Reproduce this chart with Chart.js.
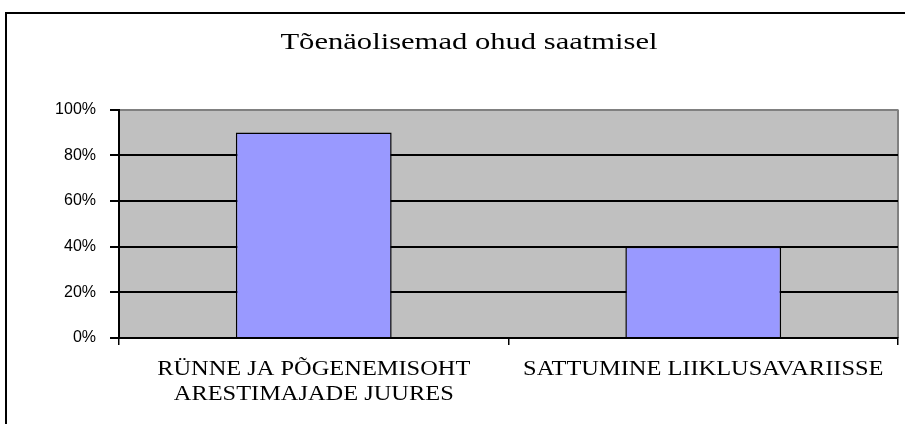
<!DOCTYPE html>
<html>
<head>
<meta charset="utf-8">
<script src="https://cdn.jsdelivr.net/npm/chart.js@4.4.0/dist/chart.umd.min.js"></script>
<style>
  html, body { margin: 0; padding: 0; background: #fff; overflow: hidden; }
  #wrap { position: relative; width: 905px; height: 424px; }
  #marco { position: absolute; left: 5px; top: 12px; width: 910px; height: 430px; border: 2px solid #000; box-sizing: border-box; }
  #grafico { position: absolute; left: 0; top: 0; }
</style>
</head>
<body>
<div id="wrap">
  <div id="marco"></div>
  <canvas id="grafico" width="905" height="424"></canvas>
</div>
<script>
const titulo = 'Tõenäolisemad ohud saatmisel';
const categorias = [['RÜNNE JA PÕGENEMISOHT', 'ARESTIMAJADE JUURES'], 'SATTUMINE LIIKLUSAVARIISSE'];
const valores = [90, 40];
const ticksY = [0, 20, 40, 60, 80, 100];

// el original tiene el texto serif estirado a lo ancho
function estirar(obj, metodo, sx, dx) {
  if (!obj || obj['_est_' + metodo]) return;
  const orig = obj[metodo];
  obj[metodo] = function () {
    const c = this.ctx;
    const ft = c.fillText;
    c.fillText = function (t, x, y) {
      c.save();
      c.translate(x + (dx || 0), y);
      c.scale(sx, 1);
      ft.call(c, t, 0, 0);
      c.restore();
    };
    try { orig.apply(this, arguments); } finally { delete c.fillText; }
  };
  obj['_est_' + metodo] = true;
}

const fondoPlot = {
  id: 'fondoPlot',
  afterLayout(chart) {
    estirar(chart.scales.x, 'drawLabels', 1.22, 0);
    estirar(chart.titleBlock, 'draw', 1.33, 20);
  },
  beforeDraw(chart) {
    const { ctx, chartArea: a } = chart;
    ctx.save();
    ctx.fillStyle = '#c0c0c0';
    ctx.fillRect(a.left, a.top, a.width, a.height);
    ctx.strokeStyle = '#808080';
    ctx.lineWidth = 2;
    ctx.beginPath();
    ctx.moveTo(a.right, a.top);
    ctx.lineTo(a.right, a.bottom);
    ctx.stroke();
    ctx.restore();
  }
};

const ctx = document.getElementById('grafico').getContext('2d');
new Chart(ctx, {
  type: 'bar',
  data: {
    labels: categorias,
    datasets: [{
      data: valores,
      backgroundColor: '#9999ff',
      borderColor: '#000',
      borderWidth: 1.5,
      categoryPercentage: 0.8,
      barPercentage: 0.5
    }]
  },
  options: {
    responsive: false,
    animation: false,
    layout: { padding: { left: 0, right: 7, top: 0, bottom: 0 } },
    plugins: {
      legend: { display: false },
      tooltip: { enabled: false },
      title: {
        display: true,
        text: titulo,
        color: '#000',
        font: { family: 'Liberation Serif', size: 23, weight: 'normal', lineHeight: 1.2 },
        padding: { top: 29, bottom: 53 }
      }
    },
    scales: {
      x: {
        offset: true,
        grid: { offset: true, drawOnChartArea: false, color: '#000', tickLength: 7, lineWidth: 1.5 },
        border: { display: true, color: '#000', width: 2 },
        ticks: {
          color: '#000',
          autoSkip: false,
          maxRotation: 0,
          padding: 12,
          font: { family: 'Liberation Serif', size: 20, lineHeight: 1.25 }
        },
        afterFit: s => { s.height = 86; }
      },
      y: {
        min: 0,
        max: 100,
        afterBuildTicks: s => { s.ticks = ticksY.map(v => ({ value: v })); },
        grid: {
          color: c => (c.tick && c.tick.value === 100 ? '#808080' : '#000'),
          tickColor: '#000',
          lineWidth: 2,
          tickLength: 9
        },
        border: { display: true, color: '#000', width: 2 },
        ticks: {
          color: '#000',
          padding: 14,
          font: { family: 'Liberation Sans', size: 16 },
          callback: v => v + '%'
        },
        afterFit: s => { s.width = 119; }
      }
    }
  },
  plugins: [fondoPlot]
});
</script>
</body>
</html>
